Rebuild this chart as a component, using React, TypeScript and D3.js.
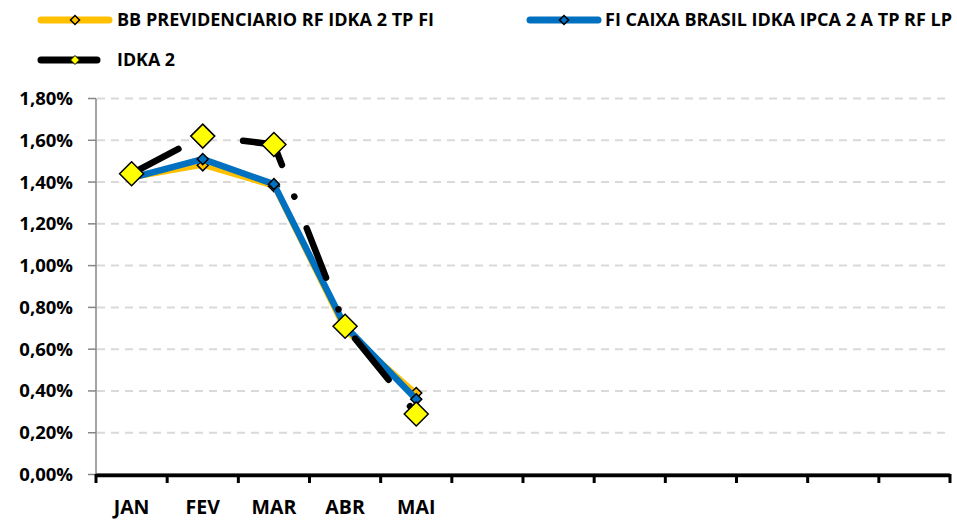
import React from "react";
import * as d3 from "d3";

const categories = ["JAN", "FEV", "MAR", "ABR", "MAI", "JUN", "JUL", "AGO", "SET", "OUT", "NOV", "DEZ"];
const tickLabels = ["JAN", "FEV", "MAR", "ABR", "MAI", "", "", "", "", "", "", ""];
const bbValues = [1.42, 1.48, 1.38, 0.69, 0.39];
const caixaValues = [1.42, 1.51, 1.39, 0.71, 0.36];
const idkaValues = [1.44, 1.62, 1.58, 0.71, 0.29];
const yTicks = [0, 0.2, 0.4, 0.6, 0.8, 1.0, 1.2, 1.4, 1.6, 1.8];
const seriesNames = ["BB PREVIDENCIARIO RF IDKA 2 TP FI", "FI CAIXA BRASIL IDKA IPCA 2 A TP RF LP", "IDKA 2"];

const W = 957;
const H = 520;
const FONT = "'Open Sans', 'DejaVu Sans', sans-serif";

export default function App() {
  const x = d3.scaleBand<string>().domain(categories).range([96, 950]).padding(0);
  const y = d3.scaleLinear().domain([0, 1.8]).range([474.5, 98.5]);
  const cx = (i: number) => (x(categories[i]) as number) + x.bandwidth() / 2;
  const line = d3
    .line<number>()
    .x((_, i) => cx(i))
    .y((d) => y(d));
  const fmt = (v: number) => v.toFixed(2).replace(".", ",") + "%";
  const diamond = (px: number, py: number, r: number) =>
    `M${px},${py - r}L${px + r},${py}L${px},${py + r}L${px - r},${py}Z`;
  const boundaries = d3.range(categories.length + 1).map((i) => 96 + i * x.bandwidth());

  const bbColor = "#FFC000";
  const caixaColor = "#0070C0";

  return (
    <svg width={W} height={H} style={{ position: "absolute", left: 0, top: 0, background: "#fff" }}>
      <rect width={W} height={H} fill="#fff" />
      {/* legend */}
      <g fontFamily={FONT} fontWeight="bold" fontSize={17} fill="#000">
        <line x1={41} x2={109} y1={20} y2={20} stroke={bbColor} strokeWidth={7} strokeLinecap="round" />
        <path d={diamond(75, 20, 4.5)} fill={bbColor} stroke="#000" strokeWidth={1.5} />
        <text x={117} y={26} textLength={317} lengthAdjust="spacingAndGlyphs">{seriesNames[0]}</text>
        <line x1={530} x2={598} y1={20} y2={20} stroke={caixaColor} strokeWidth={7} strokeLinecap="round" />
        <path d={diamond(564, 20, 4.5)} fill={caixaColor} stroke="#000" strokeWidth={1.5} />
        <text x={605} y={26} textLength={347} lengthAdjust="spacingAndGlyphs">{seriesNames[1]}</text>
        <line x1={41} x2={97} y1={60} y2={60} stroke="#000" strokeWidth={7} strokeLinecap="round" />
        <path d={diamond(75, 60, 4.5)} fill="#FFFF00" stroke="#000" strokeWidth={1} />
        <text x={117} y={66} textLength={58} lengthAdjust="spacingAndGlyphs">{seriesNames[2]}</text>
      </g>

      {/* gridlines */}
      {yTicks.filter((t) => t > 0).map((t) => (
        <line key={t} x1={97} x2={946} y1={y(t)} y2={y(t)} stroke="#D9D9D9" strokeWidth={2} strokeDasharray="8 6" />
      ))}

      {/* y axis */}
      <line x1={96} x2={96} y1={y(1.8)} y2={y(0)} stroke="#868686" strokeWidth={1.5} />
      {yTicks.map((t) => (
        <g key={t}>
          <line x1={88} x2={96} y1={y(t)} y2={y(t)} stroke="#868686" strokeWidth={1.5} />
          <text x={73} y={y(t) + 6.5} textAnchor="end" fontFamily={FONT} fontWeight="bold" fontSize={18.5} fill="#000">
            {fmt(t)}
          </text>
        </g>
      ))}

      {/* x axis */}
      <line x1={96} x2={950} y1={473.5} y2={473.5} stroke="#868686" strokeWidth={1} />
      <line x1={96} x2={950} y1={475.5} y2={475.5} stroke="#000" strokeWidth={3.5} />
      {boundaries.map((b, i) => (
        <line key={i} x1={b} x2={b} y1={474} y2={483} stroke="#000" strokeWidth={3} />
      ))}
      {tickLabels.map((l, i) => (
        <text key={i} x={cx(i)} y={514} textAnchor="middle" fontFamily={FONT} fontWeight="bold" fontSize={19.5} fill="#000">
          {l}
        </text>
      ))}

      {/* BB series */}
      <path d={line(bbValues) || ""} fill="none" stroke={bbColor} strokeWidth={5} strokeLinejoin="round" />
      {bbValues.map((v, i) => (
        <path key={i} d={diamond(cx(i), y(v), 5.5)} fill={bbColor} stroke="#000" strokeWidth={1.5} />
      ))}

      {/* CAIXA series */}
      <path d={line(caixaValues) || ""} fill="none" stroke={caixaColor} strokeWidth={6.5} strokeLinejoin="round" />
      {caixaValues.map((v, i) => (
        <path key={i} d={diamond(cx(i), y(v), 5.5)} fill={caixaColor} stroke="#000" strokeWidth={1.5} />
      ))}

      {/* IDKA 2 series */}
      <path
        d={line(idkaValues) || ""}
        fill="none"
        stroke="#000"
        strokeWidth={6.5}
        strokeLinecap="round"
        strokeLinejoin="round"
        strokeDasharray="53 34 0.1 34"
      />
      {idkaValues.map((v, i) => (
        <path key={i} d={diamond(cx(i), y(v), 12)} fill="#FFFF00" stroke="#000" strokeWidth={1.5} />
      ))}
    </svg>
  );
}
